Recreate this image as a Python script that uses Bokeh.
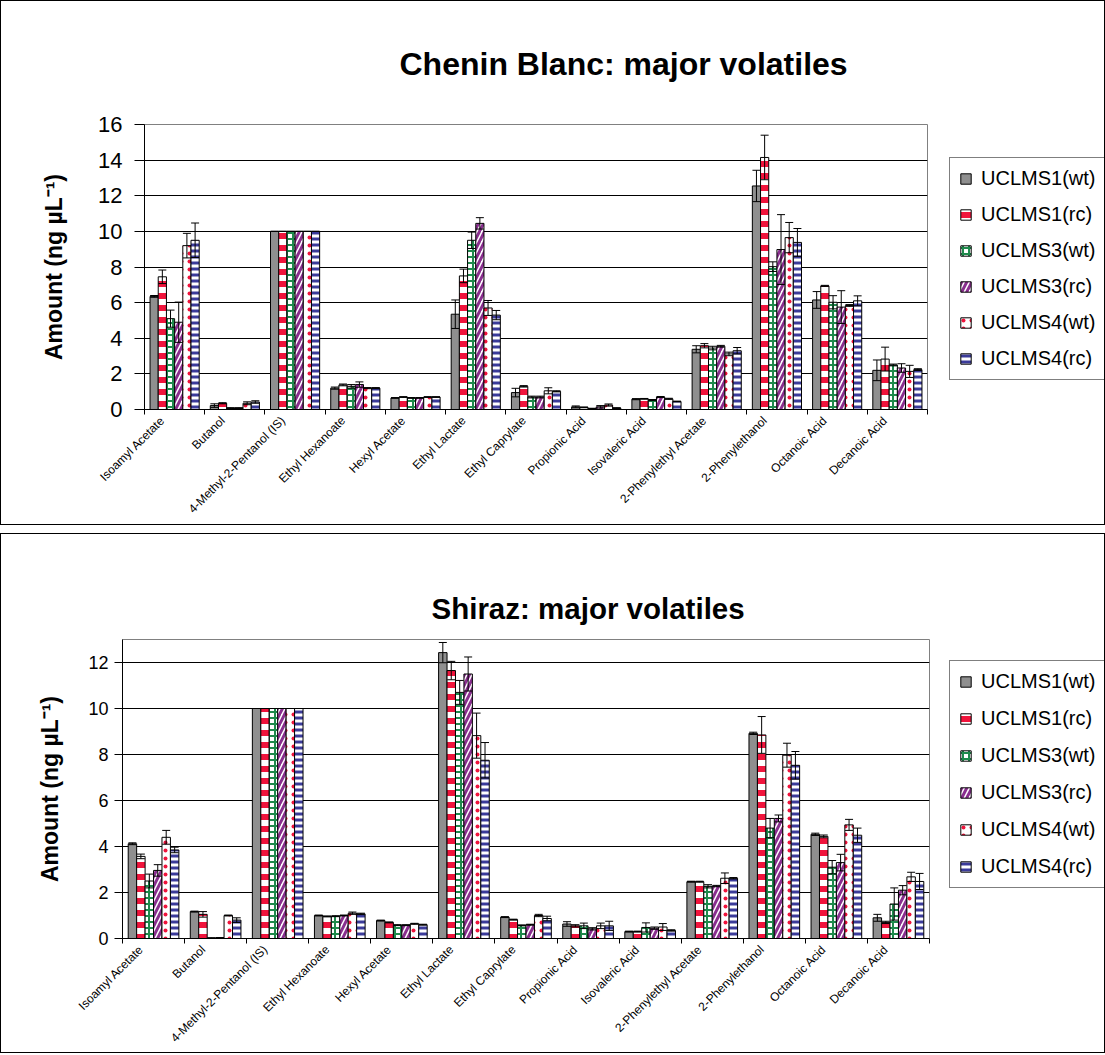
from bokeh.plotting import figure
from bokeh.models import (ColumnDataSource, Whisker, TeeHead, Legend, LegendItem,
                          FixedTicker, Title, Range1d)
from bokeh.layouts import column, row
from bokeh.embed import file_html
from bokeh.resources import INLINE

categories = ["Isoamyl Acetate", "Butanol", "4-Methyl-2-Pentanol (IS)", "Ethyl Hexanoate",
              "Hexyl Acetate", "Ethyl Lactate", "Ethyl Caprylate", "Propionic Acid",
              "Isovaleric Acid", "2-Phenylethyl Acetate", "2-Phenylethanol",
              "Octanoic Acid", "Decanoic Acid"]
series_names = ["UCLMS1(wt)", "UCLMS1(rc)", "UCLMS3(wt)", "UCLMS3(rc)", "UCLMS4(wt)", "UCLMS4(rc)"]

# Chenin Blanc means
cb_uclms1_wt = [6.35, 0.22, 10, 1.20, 0.65, 5.35, 0.95, 0.15, 0.58, 3.38, 12.55, 6.15, 2.20]
cb_uclms1_rc = [7.45, 0.35, 10, 1.38, 0.70, 7.50, 1.30, 0.12, 0.60, 3.58, 14.15, 6.94, 2.83]
cb_uclms3_wt = [5.10, 0.08, 10, 1.30, 0.65, 9.50, 0.70, 0.05, 0.53, 3.45, 8.02, 6.02, 2.50]
cb_uclms3_rc = [4.90, 0.08, 10, 1.40, 0.65, 10.45, 0.70, 0.15, 0.70, 3.55, 8.98, 5.75, 2.33]
cb_uclms4_wt = [9.20, 0.35, 10, 1.20, 0.70, 5.70, 1.05, 0.25, 0.60, 3.12, 9.65, 5.84, 2.14]
cb_uclms4_rc = [9.50, 0.42, 10, 1.20, 0.70, 5.30, 1.02, 0.08, 0.45, 3.30, 9.38, 6.10, 2.24]
# Chenin Blanc error bars
cb_err1_wt = [0.05, 0.10, 0, 0.06, 0.02, 0.80, 0.24, 0.05, 0.03, 0.20, 0.88, 0.47, 0.58]
cb_err1_rc = [0.38, 0.03, 0, 0.05, 0.02, 0.38, 0.04, 0.02, 0.02, 0.12, 1.25, 0.03, 0.67]
cb_err3_wt = [0.48, 0.02, 0, 0.10, 0.02, 0.46, 0.05, 0.02, 0.03, 0.10, 0.27, 0.37, 0.05]
cb_err3_rc = [1.13, 0.02, 0, 0.15, 0.02, 0.32, 0.05, 0.07, 0.03, 0.05, 1.96, 0.92, 0.24]
cb_err4_wt = [0.69, 0.08, 0, 0.03, 0.02, 0.42, 0.17, 0.06, 0.03, 0.10, 0.85, 0.05, 0.34]
cb_err4_rc = [0.97, 0.07, 0, 0.03, 0.02, 0.26, 0.03, 0.02, 0.02, 0.18, 0.78, 0.28, 0.05]

# Shiraz means
sh_uclms1_wt = [4.12, 1.17, 10, 1.00, 0.78, 12.43, 0.93, 0.63, 0.30, 2.47, 8.92, 4.53, 0.90]
sh_uclms1_rc = [3.57, 1.05, 10, 0.96, 0.70, 11.65, 0.82, 0.55, 0.30, 2.47, 8.85, 4.44, 0.70]
sh_uclms3_wt = [2.50, 0.02, 10, 0.97, 0.58, 10.70, 0.57, 0.55, 0.48, 2.27, 4.80, 3.10, 1.50]
sh_uclms3_rc = [2.96, 0.03, 10, 1.00, 0.58, 11.50, 0.60, 0.42, 0.45, 2.28, 5.22, 3.30, 2.10]
sh_uclms4_wt = [4.40, 1.00, 10, 1.10, 0.64, 8.82, 1.00, 0.55, 0.50, 2.62, 7.97, 4.94, 2.68]
sh_uclms4_rc = [3.85, 0.80, 10, 1.07, 0.60, 7.75, 0.87, 0.55, 0.35, 2.62, 7.53, 4.49, 2.48]
# Shiraz error bars
sh_err1_wt = [0.04, 0.02, 0, 0.02, 0.02, 0.44, 0.02, 0.10, 0.02, 0.02, 0.05, 0.05, 0.15]
sh_err1_rc = [0.10, 0.12, 0, 0.02, 0.02, 0.40, 0.02, 0.05, 0.02, 0.02, 0.80, 0.06, 0.05]
sh_err3_wt = [0.30, 0.01, 0, 0.02, 0.02, 0.52, 0.02, 0.12, 0.20, 0.07, 0.42, 0.29, 0.70]
sh_err3_rc = [0.25, 0.01, 0, 0.02, 0.02, 0.74, 0.02, 0.05, 0.05, 0.03, 0.15, 0.36, 0.20]
sh_err4_wt = [0.30, 0.02, 0, 0.05, 0.02, 0.98, 0.05, 0.12, 0.15, 0.23, 0.52, 0.24, 0.20]
sh_err4_rc = [0.12, 0.10, 0, 0.03, 0.02, 0.77, 0.10, 0.20, 0.03, 0.03, 0.60, 0.31, 0.35]

FONT = "Liberation Sans"

styles = [
    dict(fill_color="#8f8f8f", hatch_pattern=None),
    dict(fill_color="white", hatch_pattern="horizontal_line", hatch_color="#f0143c", hatch_scale=12, hatch_weight=6),
    dict(fill_color="white", hatch_pattern="cross", hatch_color="#1f8a4c", hatch_scale=6, hatch_weight=2),
    dict(fill_color="white", hatch_pattern="right_diagonal_line", hatch_color="#8a2f8f", hatch_scale=10, hatch_weight=3),
    dict(fill_color="white", hatch_pattern="dot", hatch_color="#f0143c", hatch_scale=8, hatch_weight=3),
    dict(fill_color="white", hatch_pattern="horizontal_line", hatch_color="#3b3b9a", hatch_scale=6, hatch_weight=3),
]

CHART_W = 936
LEG_W = 1103 - CHART_W


def bar_style(k):
    st = dict(styles[k])
    hp = st.pop("hatch_pattern")
    kw = dict(line_color="black", line_width=1)
    kw.update(st)
    if hp:
        kw["hatch_pattern"] = hp
    return kw


def make_chart(title_text, title_size, title_offset, title_standoff, means, errs, ymax,
               height, mb, tick_font, tick_out, label_standoff, axis_label_standoff):
    p = figure(width=CHART_W, height=height, x_range=Range1d(0, len(categories)),
               y_range=Range1d(0, ymax), output_backend="svg", toolbar_location=None,
               min_border_left=mb[0], min_border_right=CHART_W - mb[1], min_border_top=mb[2],
               min_border_bottom=mb[3])
    p.background_fill_color = "white"
    p.border_fill_color = "white"
    p.outline_line_color = "#808080"
    p.outline_line_width = 1

    bw = 0.136
    for k, name in enumerate(series_names):
        xs = [i + 0.5 + (k - 2.5) * bw for i in range(len(categories))]
        top = means[k]
        err = errs[k]
        src = ColumnDataSource(dict(x=xs, top=top,
                                    upper=[t + e for t, e in zip(top, err)],
                                    lower=[t - e for t, e in zip(top, err)]))
        p.vbar(x="x", top="top", width=bw, bottom=0, source=src, **bar_style(k))
        w = Whisker(source=src, base="x", upper="upper", lower="lower", line_color="black",
                    line_width=1, level="overlay",
                    upper_head=TeeHead(size=8, line_color="black", line_width=1),
                    lower_head=TeeHead(size=8, line_color="black", line_width=1))
        p.add_layout(w)

    # x axis: labels near category centres, small ticks at category boundaries
    label_pos = [i + 0.3 for i in range(len(categories))]
    p.xaxis.ticker = FixedTicker(ticks=label_pos, minor_ticks=list(range(len(categories) + 1)))
    p.xaxis.major_label_overrides = {pos: c for pos, c in zip(label_pos, categories)}
    p.xaxis.major_tick_in = 0
    p.xaxis.major_tick_out = 0
    p.xaxis.minor_tick_in = 0
    p.xaxis.minor_tick_out = 5
    p.xaxis.minor_tick_line_color = "black"
    p.xaxis.axis_line_color = "black"
    p.xaxis.major_label_orientation = 0.785
    p.xaxis.major_label_text_font = FONT
    p.xaxis.major_label_text_font_size = "12px"
    p.xaxis.major_label_text_color = "black"
    p.xaxis.major_label_standoff = 4

    p.yaxis.ticker = FixedTicker(ticks=list(range(0, int(ymax) + 1, 2)))
    p.yaxis.minor_tick_line_color = None
    p.yaxis.major_tick_in = 0
    p.yaxis.major_tick_out = tick_out
    p.yaxis.major_tick_line_color = "black"
    p.yaxis.axis_line_color = "black"
    p.yaxis.major_label_text_font = FONT
    p.yaxis.major_label_text_font_size = tick_font
    p.yaxis.major_label_text_color = "black"
    p.yaxis.major_label_standoff = label_standoff
    p.yaxis.axis_label = "Amount (ng µL⁻¹)"
    p.yaxis.axis_label_text_font = FONT
    p.yaxis.axis_label_text_font_size = "23px"
    p.yaxis.axis_label_text_font_style = "bold"
    p.yaxis.axis_label_text_color = "black"
    p.yaxis.axis_label_standoff = axis_label_standoff

    p.xgrid.visible = False
    p.ygrid.grid_line_color = "black"
    p.ygrid.grid_line_width = 1

    t = Title(text=title_text, text_font=FONT, text_font_size=title_size,
              text_font_style="bold", text_color="black", align="left",
              offset=title_offset, standoff=title_standoff)
    p.add_layout(t, "above")
    return p


def make_legend(height, bottom_offset, spacing):
    lp = figure(width=LEG_W, height=height, x_range=Range1d(0, 1), y_range=Range1d(0, 1),
                output_backend="svg", toolbar_location=None, min_border=0,
                x_axis_location=None, y_axis_location=None)
    lp.grid.visible = False
    lp.outline_line_color = None
    lp.background_fill_color = "white"
    lp.border_fill_color = "white"
    items = []
    for k, name in enumerate(series_names):
        # proxy bar lying wholly outside the visible ranges, used only for the legend swatch
        r = lp.vbar(x=[-5], top=[-4], width=0.1, bottom=-5, **bar_style(k))
        items.append(LegendItem(label=name, renderers=[r]))
    legend = Legend(items=items, location=(12, bottom_offset), padding=9, spacing=spacing,
                    label_height=23, glyph_height=13, glyph_width=13, label_standoff=9,
                    label_text_font=FONT, label_text_font_size="20px",
                    label_text_color="black", border_line_color="black",
                    border_line_width=1, background_fill_color="white",
                    background_fill_alpha=1, margin=0)
    lp.add_layout(legend)
    return lp


p1 = make_chart("Chenin Blanc: major volatiles", "32px", 255, 85,
                [cb_uclms1_wt, cb_uclms1_rc, cb_uclms3_wt, cb_uclms3_rc, cb_uclms4_wt, cb_uclms4_rc],
                [cb_err1_wt, cb_err1_rc, cb_err3_wt, cb_err3_rc, cb_err4_wt, cb_err4_rc],
                16, 523, (143, 926, 122, 115), "22px", 10, 12, 28)
l1 = make_legend(523, 144, 13)
p2 = make_chart("Shiraz: major volatiles", "29.5px", 309, 30,
                [sh_uclms1_wt, sh_uclms1_rc, sh_uclms3_wt, sh_uclms3_rc, sh_uclms4_wt, sh_uclms4_rc],
                [sh_err1_wt, sh_err1_rc, sh_err3_wt, sh_err3_rc, sh_err4_wt, sh_err4_rc],
                13, 518, (121, 928, 105, 110), "18px", 8, 6, 22)
l2 = make_legend(518, 164, 14)

r1 = row(column(p1), column(l1))
r1.styles = {"border": "1px solid black"}
r2 = row(column(p2), column(l2))
r2.styles = {"border": "1px solid black"}

layout = column(r1, r2, spacing=8)
open("out.html", "w").write(file_html(layout, INLINE))
